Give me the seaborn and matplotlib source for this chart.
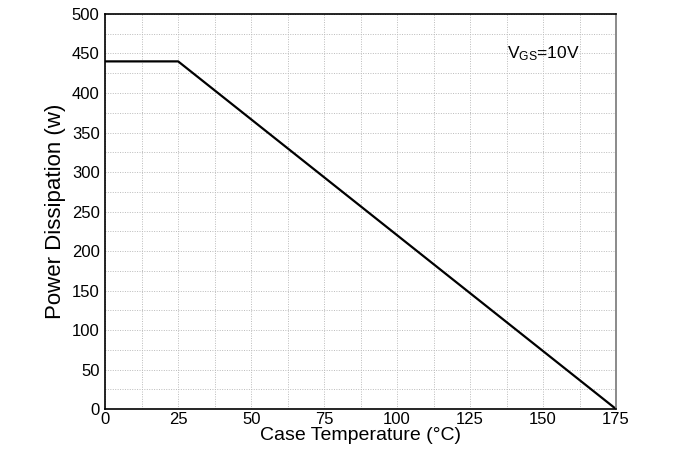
import numpy as np
import pandas as pd
import matplotlib
matplotlib.use('Agg')
import matplotlib.pyplot as plt
import seaborn as sns

# power derating curve
case_temp = [0, 25, 175]
power_w = [440, 440, 0]
x_ticks = [0, 25, 50, 75, 100, 125, 150, 175]
y_ticks = [0, 50, 100, 150, 200, 250, 300, 350, 400, 450, 500]

df = pd.DataFrame({'temp': case_temp, 'power': power_w})

sns.set_style('white')
plt.rcParams['font.family'] = ['Liberation Sans', 'DejaVu Sans']
plt.rcParams['text.color'] = 'black'
plt.rcParams['axes.labelcolor'] = 'black'

fig = plt.figure(figsize=(6.83, 4.51), dpi=100)
ax = fig.add_axes([0.154, 0.093, 0.748, 0.876])

sns.lineplot(data=df, x='temp', y='power', color='black', linewidth=1.6, ax=ax)

ax.set_xlim(0, 175)
ax.set_ylim(0, 500)
ax.set_xticks(x_ticks)
ax.set_yticks(y_ticks)
ax.set_xticks(np.arange(0, 176, 12.5), minor=True)
ax.set_yticks(np.arange(0, 501, 25), minor=True)
ax.grid(which='both', color='#bbbbbb', linestyle=(0, (1, 1.5)), linewidth=0.7)
ax.tick_params(which='both', length=0, labelsize=12, labelcolor='black')
ax.tick_params(axis='x', pad=2)
ax.tick_params(axis='y', pad=4)

for side in ['left', 'top', 'bottom']:
    ax.spines[side].set_color('black')
    ax.spines[side].set_linewidth(1.2)
ax.spines['right'].set_color('#777777')
ax.spines['right'].set_linewidth(1.2)

ax.set_xlabel('Case Temperature (°C)', fontsize=14, labelpad=0)
ax.set_ylabel('Power Dissipation (w)', fontsize=16, labelpad=4)

ax.text(137.5, 450, r'V$\mathregular{_{GS}}$=10V', fontsize=12.5, va='center', ha='left')

fig.savefig('out.png', dpi=100)
